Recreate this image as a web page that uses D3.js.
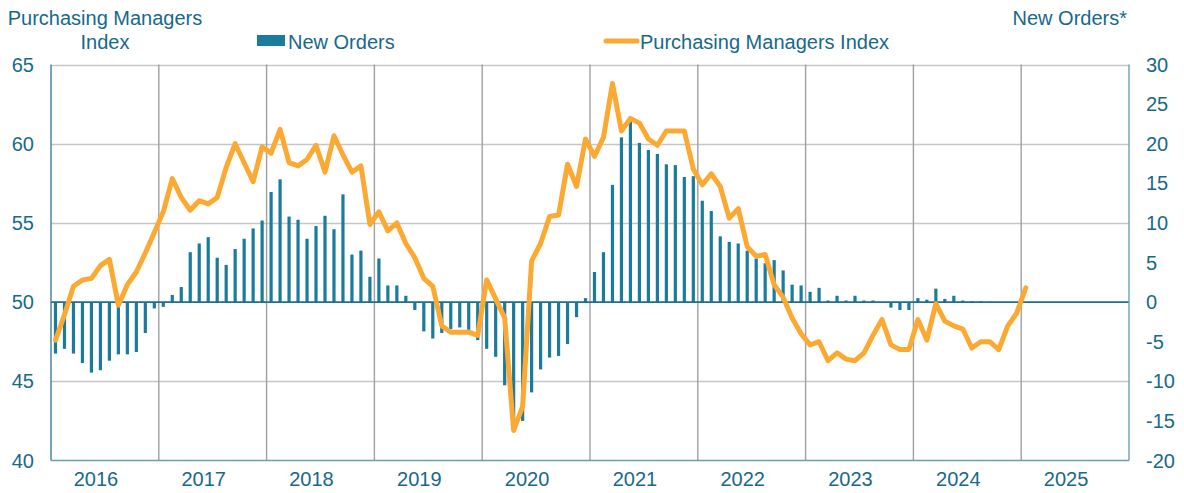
<!DOCTYPE html>
<html>
<head>
<meta charset="utf-8">
<script src="https://cdn.jsdelivr.net/npm/d3@7"></script>
<style>
  html, body { margin: 0; padding: 0; background: #ffffff; }
  svg { display: block; font-family: "Liberation Sans", Arial, sans-serif; }
</style>
</head>
<body>
<svg id="chart" width="1184" height="493"></svg>
<script>
// ---- Data (monthly, Jan 2016 onward) ----
const years = ["2016","2017","2018","2019","2020","2021","2022","2023","2024","2025"];
const startYear = 2016;

const pmi = [
  47.6, 49.2, 51.0, 51.4, 51.5, 52.3, 52.7, 49.8, 51.1, 51.9, 53.1, 54.4,
  55.7, 57.8, 56.6, 55.8, 56.4, 56.2, 56.6, 58.5, 60.0, 58.8, 57.6, 59.8,
  59.4, 60.9, 58.8, 58.6, 59.0, 59.9, 58.2, 60.5, 59.3, 58.2, 58.6, 54.9,
  55.7, 54.5, 55.0, 53.7, 52.8, 51.5, 51.0, 48.5, 48.1, 48.1, 48.1, 47.9,
  51.4, 50.2, 49.0, 41.9, 43.4, 52.6, 53.7, 55.4, 55.5, 58.7, 57.3, 60.3,
  59.2, 60.4, 63.8, 60.8, 61.6, 61.3, 60.3, 59.9, 60.8, 60.8, 60.8, 58.4,
  57.4, 58.1, 57.3, 55.3, 55.9, 53.5, 52.9, 53.0, 51.1, 50.3, 49.0, 48.0,
  47.3, 47.5, 46.3, 46.8, 46.4, 46.3, 46.8, 47.9, 48.9, 47.3, 47.0, 47.0,
  48.9, 47.6, 49.9, 48.8, 48.5, 48.3, 47.1, 47.5, 47.5, 47.0, 48.5, 49.3,
  50.9
];

const newOrders = [
  -6.5, -5.9, -6.5, -7.7, -8.9, -8.6, -7.4, -6.6, -6.6, -6.3, -3.9, -0.8,
  -0.6,  0.9,  1.9,  6.3,  7.4,  8.2,  5.6,  4.7,  6.7,  8.0,  9.3, 10.3,
  13.9, 15.5, 10.8, 10.4,  8.0,  9.6, 10.9,  9.2, 13.6,  6.0,  6.5,  3.2,
   5.5,  2.1,  2.1,  0.8, -1.0, -3.7, -4.6, -3.9, -3.4, -3.2, -3.5, -4.8,
  -5.9, -6.9,-10.5,-16.0,-15.0,-11.4, -8.5, -7.0, -6.8, -5.3, -1.9,  0.5,
   3.8,  6.3, 14.8, 20.8, 22.8, 20.1, 19.2, 18.7, 17.4, 17.3, 15.8, 15.9,
  12.8, 11.5,  8.3,  7.6,  7.4,  6.5,  5.5,  4.9,  5.3,  4.0,  2.2,  2.1,
   1.3,  1.8,  0.2,  0.8,  0.2,  0.8,  0.2,  0.2,  0.0, -0.7, -1.0, -1.0,
   0.5,  0.3,  1.7,  0.4,  0.8,  0.2,  0.1,  0.1,  0.05
];

const leftTicks = [40, 45, 50, 55, 60, 65];
const rightTicks = [-20, -15, -10, -5, 0, 5, 10, 15, 20, 25, 30];

// ---- Styles ----
const textColor = "#17698a";
const barColor = "#1b7b9c";
const lineColor = "#fba933";
const axisColor = "#3b7f97";
const vGridColor = "#a0a0a0";
const hGridColor = "#c6c6c6";
const fontSize = "20px";

// ---- Layout ----
const plot = { left: 51, right: 1129, top: 64.5, bottom: 460.5 };

const svg = d3.select("#chart");

const x = d3.scaleLinear()
  .domain([0, years.length * 12])
  .range([plot.left, plot.right]);

const yL = d3.scaleLinear().domain([40, 65]).range([plot.bottom, plot.top]);
const yR = d3.scaleLinear().domain([-20, 30]).range([plot.bottom, plot.top]);

// horizontal grid lines (left scale)
svg.append("g")
  .selectAll("line")
  .data(leftTicks.filter(t => t !== 40 && t !== 50))
  .join("line")
  .attr("x1", plot.left).attr("x2", plot.right)
  .attr("y1", d => Math.round(yL(d)) + 0.5).attr("y2", d => Math.round(yL(d)) + 0.5)
  .attr("stroke", hGridColor).attr("stroke-width", 1.6);

// vertical year grid lines
svg.append("g")
  .selectAll("line")
  .data(d3.range(1, years.length))
  .join("line")
  .attr("x1", d => x(d * 12)).attr("x2", d => x(d * 12))
  .attr("y1", plot.top).attr("y2", plot.bottom)
  .attr("stroke", vGridColor).attr("stroke-width", 1.4);

// bars (right scale)
const barW = 3.2;
svg.append("g")
  .selectAll("rect")
  .data(newOrders)
  .join("rect")
  .attr("x", (d, i) => x(i + 0.5) - barW / 2)
  .attr("width", barW)
  .attr("y", d => Math.min(yR(d), yR(0)))
  .attr("height", d => Math.abs(yR(d) - yR(0)))
  .attr("fill", barColor);

// zero line
svg.append("line")
  .attr("x1", plot.left).attr("x2", plot.right)
  .attr("y1", yR(0)).attr("y2", yR(0))
  .attr("stroke", "#1e6f8c").attr("stroke-width", 1.6);

// axis frame lines: left, right, bottom
svg.append("line")
  .attr("x1", plot.left).attr("x2", plot.left)
  .attr("y1", plot.top).attr("y2", plot.bottom)
  .attr("stroke", axisColor).attr("stroke-width", 1.4);
svg.append("line")
  .attr("x1", plot.right).attr("x2", plot.right)
  .attr("y1", plot.top).attr("y2", plot.bottom)
  .attr("stroke", "#6a9fb3").attr("stroke-width", 1.4);
svg.append("line")
  .attr("x1", plot.left).attr("x2", plot.right)
  .attr("y1", plot.bottom).attr("y2", plot.bottom)
  .attr("stroke", "#6a9fb3").attr("stroke-width", 1.4);

// PMI line
const line = d3.line()
  .x((d, i) => x(i + 0.5))
  .y(d => yL(d));
svg.append("path")
  .datum(pmi)
  .attr("d", line)
  .attr("fill", "none")
  .attr("stroke", lineColor)
  .attr("stroke-width", 5)
  .attr("stroke-linejoin", "round")
  .attr("stroke-linecap", "round");

// left axis labels
svg.append("g")
  .selectAll("text")
  .data(leftTicks)
  .join("text")
  .attr("x", 34)
  .attr("y", d => yL(d))
  .attr("dy", "0.35em")
  .attr("text-anchor", "end")
  .attr("fill", textColor)
  .style("font-size", fontSize)
  .text(d => d);

// right axis labels
svg.append("g")
  .selectAll("text")
  .data(rightTicks)
  .join("text")
  .attr("x", 1146)
  .attr("y", d => yR(d))
  .attr("dy", "0.35em")
  .attr("text-anchor", "start")
  .attr("fill", textColor)
  .style("font-size", fontSize)
  .text(d => d);

// year labels
svg.append("g")
  .selectAll("text")
  .data(years)
  .join("text")
  .attr("x", (d, i) => x(i * 12 + 6) - 9)
  .attr("y", 486)
  .attr("text-anchor", "middle")
  .attr("fill", textColor)
  .style("font-size", fontSize)
  .text(d => d);

// axis titles
svg.append("text")
  .attr("x", 105).attr("y", 25)
  .attr("text-anchor", "middle")
  .attr("fill", textColor).style("font-size", fontSize)
  .text("Purchasing Managers");
svg.append("text")
  .attr("x", 105).attr("y", 49)
  .attr("text-anchor", "middle")
  .attr("fill", textColor).style("font-size", fontSize)
  .text("Index");
svg.append("text")
  .attr("x", 1127).attr("y", 25)
  .attr("text-anchor", "end")
  .attr("fill", textColor).style("font-size", fontSize)
  .text("New Orders*");

// legend
const legend = svg.append("g");
legend.append("rect")
  .attr("x", 257).attr("y", 35).attr("width", 28).attr("height", 11)
  .attr("fill", barColor);
legend.append("text")
  .attr("x", 288).attr("y", 49)
  .attr("fill", textColor).style("font-size", fontSize)
  .text("New Orders");
legend.append("line")
  .attr("x1", 606).attr("x2", 637).attr("y1", 41).attr("y2", 41)
  .attr("stroke", lineColor).attr("stroke-width", 5).attr("stroke-linecap", "round");
legend.append("text")
  .attr("x", 640).attr("y", 49)
  .attr("fill", textColor).style("font-size", fontSize)
  .text("Purchasing Managers Index");
</script>
</body>
</html>
